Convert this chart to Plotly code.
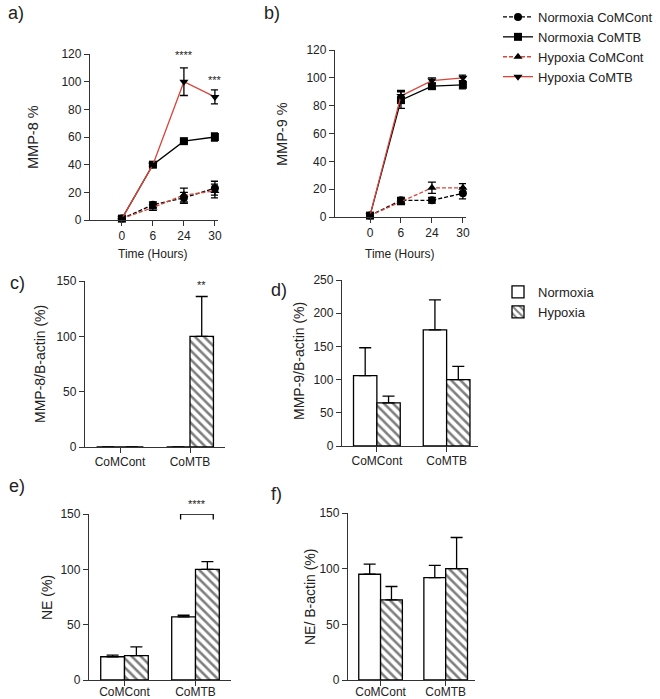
import plotly.graph_objects as go

W, H = 660, 699
FONT = "Liberation Sans, Arial, sans-serif"
AX = "#333333"
RED = "#d8463a"

# ---------------- data ----------------
hours = ["0", "6", "24", "30"]
series_names = ["Normoxia CoMCont", "Normoxia CoMTB", "Hypoxia CoMCont", "Hypoxia CoMTB"]

# panel a: MMP-8 %
a_norm_cont = [1, 11, 16, 23]
a_norm_cont_err = [0, 2, 4, 5]
a_norm_tb = [1, 40, 57, 60]
a_norm_tb_err = [0, 1, 1, 3]
a_hyp_cont = [1, 9, 18, 21]
a_hyp_cont_err = [0, 2, 5, 5]
a_hyp_tb = [1, 40, 100, 89]
a_hyp_tb_err = [0, 1, 10, 5]

# panel b: MMP-9 %
b_norm_cont = [1, 12, 12, 17]
b_norm_cont_err = [0, 2, 2, 4]
b_norm_tb = [1, 84, 94, 95]
b_norm_tb_err = [0, 6, 2, 3]
b_hyp_cont = [1, 11, 21, 21]
b_hyp_cont_err = [0, 2, 4, 3]
b_hyp_tb = [1, 87, 98, 100]
b_hyp_tb_err = [0, 4, 2, 2]

groups = ["CoMCont", "CoMTB"]
# panel c: MMP-8/B-actin (%)
c_norm = [0, 0]
c_norm_err = [0, 0]
c_hyp = [0, 100]
c_hyp_err = [0, 36]
# panel d: MMP-9/B-actin (%)
d_norm = [106, 175]
d_norm_err = [42, 45]
d_hyp = [65, 100]
d_hyp_err = [10, 20]
# panel e: NE (%)
e_norm = [21, 57]
e_norm_err = [1.5, 1.5]
e_hyp = [22, 100]
e_hyp_err = [8, 7]
# panel f: NE/ B-actin (%)
f_norm = [95, 92]
f_norm_err = [9, 11]
f_hyp = [72, 100]
f_hyp_err = [12, 28]


def fx(px):
    return px / W


def fy(py):
    return 1 - py / H


fig = go.Figure()

styles = [
    dict(color="black", dash="4px,2px", symbol="circle"),
    dict(color="black", dash="solid", symbol="square"),
    dict(color=RED, dash="4px,2px", symbol="triangle-up"),
    dict(color=RED, dash="solid", symbol="triangle-down"),
]

panel_a = [(a_norm_cont, a_norm_cont_err), (a_norm_tb, a_norm_tb_err),
           (a_hyp_cont, a_hyp_cont_err), (a_hyp_tb, a_hyp_tb_err)]
panel_b = [(b_norm_cont, b_norm_cont_err), (b_norm_tb, b_norm_tb_err),
           (b_hyp_cont, b_hyp_cont_err), (b_hyp_tb, b_hyp_tb_err)]

for axn, panel, show in (("", panel_a, True), ("2", panel_b, False)):
    for name, (vals, errs), st in zip(series_names, panel, styles):
        fig.add_trace(go.Scatter(
            x=hours, y=vals, name=name, mode="lines+markers",
            xaxis="x" + axn, yaxis="y" + axn,
            line=dict(color=st["color"], width=1.3, dash=st["dash"]),
            marker=dict(symbol=st["symbol"], size=8, color="black"),
            error_y=dict(type="data", array=errs, visible=True, color="black",
                         thickness=1.3, width=4),
            cliponaxis=False, showlegend=show, legend="legend",
        ))

bar_panels = [("3", c_norm, c_norm_err, c_hyp, c_hyp_err),
              ("4", d_norm, d_norm_err, d_hyp, d_hyp_err),
              ("5", e_norm, e_norm_err, e_hyp, e_hyp_err),
              ("6", f_norm, f_norm_err, f_hyp, f_hyp_err)]

for axn, nv, ne, hv, he in bar_panels:
    show = axn == "4"
    fig.add_trace(go.Bar(
        x=groups, y=nv, name="Normoxia", xaxis="x" + axn, yaxis="y" + axn,
        marker=dict(color="white", line=dict(color="black", width=1.3)),
        error_y=dict(type="data", symmetric=False, array=ne, arrayminus=[0, 0],
                     color="black", thickness=1.3, width=6),
        showlegend=show, legend="legend2", cliponaxis=False,
    ))
    fig.add_trace(go.Bar(
        x=groups, y=hv, name="Hypoxia", xaxis="x" + axn, yaxis="y" + axn,
        marker=dict(color="white", line=dict(color="black", width=1.3),
                    pattern=dict(shape="\\", fgcolor="black", bgcolor="white",
                                 size=6.4, solidity=0.4)),
        error_y=dict(type="data", symmetric=False, array=he, arrayminus=[0, 0],
                     color="black", thickness=1.3, width=6),
        showlegend=show, legend="legend2", cliponaxis=False,
    ))

# axis geometry (pixel boxes)
boxes = {
    "": dict(x=(90, 218), y=(54, 220), xr=[-1.03, 3.1], yr=[0, 120], dt=20, so=-1),
    "2": dict(x=(335, 466), y=(50, 217), xr=[-1.13, 3.1], yr=[0, 120], dt=20, so=-1),
    "3": dict(x=(85, 225), y=(281, 447), xr=[-0.5, 1.5], yr=[0, 150], dt=50, so=-2),
    "4": dict(x=(342, 478), y=(280, 446), xr=[-0.5, 1.45], yr=[0, 250], dt=50, so=-2),
    "5": dict(x=(89, 231), y=(514, 680), xr=[-0.5, 1.5], yr=[0, 150], dt=50, so=-5),
    "6": dict(x=(348, 475), y=(513, 680), xr=[-0.5, 1.45], yr=[0, 150], dt=50, so=-5),
}

axcommon = dict(showline=True, linecolor=AX, linewidth=1.3, ticks="outside",
                ticklen=5, tickwidth=1.3, tickcolor=AX, showgrid=False,
                zeroline=False, tickfont=dict(size=12, color="#222", family=FONT))

layout = {}
for axn, b in boxes.items():
    layout["xaxis" + axn] = dict(domain=[fx(b["x"][0]), fx(b["x"][1])],
                                 anchor="y" + axn, type="category",
                                 range=b["xr"], ticklabelstandoff=b["so"], **axcommon)
    layout["yaxis" + axn] = dict(domain=[fy(b["y"][1]), fy(b["y"][0])],
                                 anchor="x" + axn, range=b["yr"], dtick=b["dt"],
                                 **axcommon)

fig.update_layout(**layout)

ann = []


def text(x, y, s, size, angle=0, xref="paper", yref="paper", **kw):
    ann.append(dict(x=x, y=y, xref=xref, yref=yref, text=s, showarrow=False,
                    textangle=angle, font=dict(size=size, family=FONT, color="#222"),
                    xanchor="center", yanchor="middle", **kw))


# panel letters
for s, px, py in (("a)", 16, 13), ("b)", 272, 13), ("c)", 17, 283),
                  ("d)", 279, 290), ("e)", 17, 486), ("f)", 276, 494)):
    text(fx(px), fy(py), s, 18)

# axis titles
text(fx(33), fy(137), "MMP-8 %", 14.5, -90)
text(fx(282), fy(134), "MMP-9 %", 14.5, -90)
text(fx(40), fy(364), "MMP-8/B-actin (%)", 14, -90)
text(fx(299), fy(361), "MMP-9/B-actin (%)", 14, -90)
text(fx(47), fy(598), "NE (%)", 14, -90)
text(fx(310), fy(597), "NE/ B-actin (%)", 14, -90)
text(fx(153), fy(254), "Time (Hours)", 12)
text(fx(400), fy(254), "Time (Hours)", 12)

# significance stars
text(2, fy(55), "****", 11, xref="x")
text(3, fy(80), "***", 11, xref="x")
text(1.17, fy(285), "**", 11, xref="x3")
text(1.02, fy(504), "****", 11, xref="x5")
fig.update_layout(annotations=ann)

# bracket in panel e
fig.add_shape(type="path", xref="x5", yref="y5",
              path="M0.79,145 L0.79,155 M0.79,150 L1.25,150 M1.25,145 L1.25,155",
              line=dict(color="black", width=1.3))

fig.update_layout(
    width=W, height=H,
    margin=dict(l=0, r=0, t=0, b=0, autoexpand=False),
    paper_bgcolor="white", plot_bgcolor="white",
    font=dict(family=FONT, color="#222"),
    barmode="group", bargap=0.33, bargroupgap=0,
    legend=dict(x=fx(498), y=fy(2), xanchor="left", yanchor="top",
                font=dict(size=13, family=FONT, color="#222"),
                bgcolor="rgba(0,0,0,0)", itemwidth=30, tracegroupgap=0),
    legend2=dict(x=fx(498), y=fy(277), xanchor="left", yanchor="top",
                 font=dict(size=13, family=FONT, color="#222"),
                 bgcolor="rgba(0,0,0,0)", itemwidth=30, tracegroupgap=0),
)

fig.write_html("out.html", config={"displayModeBar": False},
               post_script="document.body.style.margin='0';document.body.style.padding='0';")
